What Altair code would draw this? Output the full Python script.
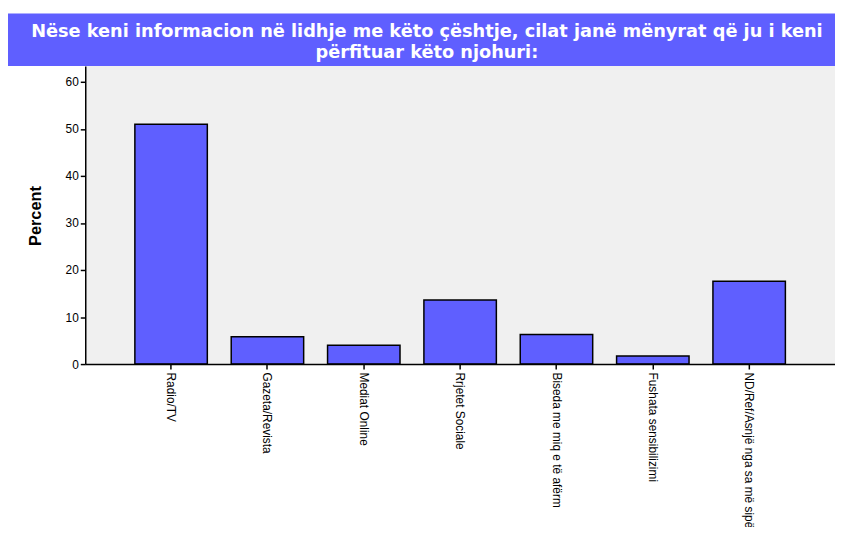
import altair as alt
import pandas as pd

categories = ["Radio/TV", "Gazeta/Revista", "Mediat Online", "Rrjetet Sociale",
              "Biseda me miq e të afërm", "Fushata sensibilizimi",
              "ND/Ref/Asnjë nga sa më sipër"]
values = [51.0, 5.8, 4.0, 13.6, 6.3, 1.7, 17.6]
title_lines = ["Nëse keni informacion në lidhje me këto çështje, cilat janë mënyrat që ju i keni",
               "përfituar këto njohuri:"]
y_ticks = [0, 10, 20, 30, 40, 50, 60]

FONT = "Liberation Sans, Arial, sans-serif"
TFONT = "DejaVu Sans"
BAR = "#5f5fff"

df = pd.DataFrame({"cat": categories, "pct": values})

bars = alt.Chart(df).mark_bar(color=BAR, stroke="black", strokeWidth=1.5).encode(
    x=alt.X("cat:N", sort=categories,
            scale=alt.Scale(paddingInner=0.248, paddingOuter=0.515),
            axis=alt.Axis(title=None, labelAngle=90, labelAlign="left", labelBaseline="middle",
                          labelFont=FONT, labelFontSize=12, labelColor="black",
                          labelPadding=3, tickSize=5, tickColor="black", tickWidth=1.5,
                          domainColor="black", domainWidth=1.5, labelLimit=400, zindex=1)),
    y=alt.Y("pct:Q", scale=alt.Scale(domain=[0, 63.4], nice=False, zero=True),
            axis=alt.Axis(title="Percent", values=y_ticks, grid=False,
                          labelFont=FONT, labelFontSize=12, labelColor="black", labelPadding=2,
                          tickSize=5, tickColor="black", tickWidth=1.5,
                          domainColor="black", domainWidth=1.5,
                          titleFont=FONT, titleFontSize=16.5, titleFontWeight="bold",
                          titleColor="black", titleX=-50, titleY=151, titleAngle=-90,
                          titleAlign="center", titleBaseline="middle", zindex=1)),
)

band = alt.Chart(pd.DataFrame({"a": [0]})).mark_rect(color=BAR).encode(
    x=alt.value(-78), x2=alt.value(757), y=alt.value(-53), y2=alt.value(0)
)

t1 = alt.Chart(pd.DataFrame({"t": [title_lines[0]]})).mark_text(
    color="white", font=TFONT, fontSize=17.9, fontWeight="bold", align="center", baseline="middle"
).encode(x=alt.value(345), y=alt.value(-34), text="t:N")

t2 = alt.Chart(pd.DataFrame({"t": [title_lines[1]]})).mark_text(
    color="white", font=TFONT, fontSize=17.9, fontWeight="bold", align="center", baseline="middle"
).encode(x=alt.value(345), y=alt.value(-13), text="t:N")

chart = alt.layer(band, bars, t1, t2).properties(
    width=757, height=301,
    autosize=alt.AutoSizeParams(type="none"),
    padding={"left": 78, "top": 56, "right": 0, "bottom": 162},
    background="white",
).configure_view(fill="#f0f0f0", stroke=None)

chart.save("out.html", embed_options={"renderer": "svg", "actions": False})
